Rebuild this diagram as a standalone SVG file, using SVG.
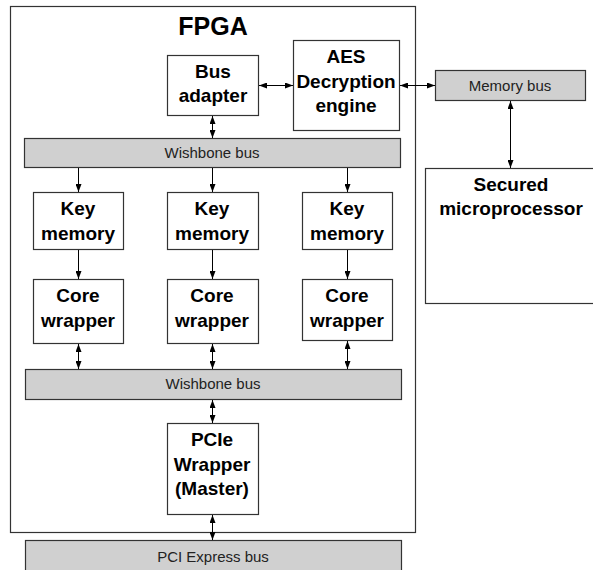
<svg xmlns="http://www.w3.org/2000/svg" width="593" height="570" viewBox="0 0 593 570">
<defs>
<marker id="ah" viewBox="0 0 8 6" refX="8" refY="3" markerWidth="8" markerHeight="6" markerUnits="userSpaceOnUse" orient="auto-start-reverse">
<path d="M0,0 L8,3 L0,6 Z" fill="#000"/>
</marker>
<style>
.box{fill:#fff;stroke:#333;stroke-width:1.2}
.bus{fill:#d0d0d0;stroke:#333;stroke-width:1.2}
.t{font-family:"Liberation Sans",Arial,sans-serif;font-weight:bold;font-size:19px;text-anchor:middle;fill:#000}
.bt{font-family:"Liberation Sans",Arial,sans-serif;font-size:15px;text-anchor:middle;fill:#222}
.c{stroke:#000;stroke-width:1;fill:none}
.one{marker-end:url(#ah)}
.two{marker-start:url(#ah);marker-end:url(#ah)}
</style>
</defs>
<rect width="593" height="570" fill="#fff"/>
<g id="fpga">
<rect x="10.5" y="6.5" width="405" height="526" fill="#fff" stroke="#333" stroke-width="1.2"/>
<text x="213" y="35" class="t" style="font-size:25px">FPGA</text>
</g>
<g id="bus-adapter">
<rect class="box" x="167.5" y="55.5" width="91" height="60"/>
<text class="t" x="213" y="78">Bus</text>
<text class="t" x="213" y="102">adapter</text>
</g>
<g id="aes">
<rect class="box" x="293.5" y="40.5" width="106" height="90"/>
<text class="t" x="346" y="63">AES</text>
<text class="t" x="346" y="88">Decryption</text>
<text class="t" x="346" y="112">engine</text>
</g>
<g id="memory-bus">
<rect class="bus" x="435.5" y="70.5" width="150" height="30"/>
<text class="bt" x="510" y="91">Memory bus</text>
</g>
<g id="secured-microprocessor">
<rect class="box" x="425.5" y="168.5" width="170" height="135"/>
<text class="t" x="511" y="191">Secured</text>
<text class="t" x="511" y="215">microprocessor</text>
</g>
<g id="wishbone-bus-1">
<rect class="bus" x="24.5" y="138.5" width="376" height="29"/>
<text class="bt" x="212" y="158">Wishbone bus</text>
</g>
<g id="key-memory-1">
<rect class="box" x="33.5" y="192.5" width="90" height="57"/>
<text class="t" x="78" y="215">Key</text>
<text class="t" x="78" y="240">memory</text>
</g>
<g id="key-memory-2">
<rect class="box" x="167.5" y="192.5" width="91" height="57"/>
<text class="t" x="212" y="215">Key</text>
<text class="t" x="212" y="240">memory</text>
</g>
<g id="key-memory-3">
<rect class="box" x="302.5" y="192.5" width="90" height="57"/>
<text class="t" x="347" y="215">Key</text>
<text class="t" x="347" y="240">memory</text>
</g>
<g id="core-wrapper-1">
<rect class="box" x="33.5" y="279.5" width="90" height="64"/>
<text class="t" x="78" y="302">Core</text>
<text class="t" x="78" y="327">wrapper</text>
</g>
<g id="core-wrapper-2">
<rect class="box" x="167.5" y="279.5" width="91" height="64"/>
<text class="t" x="212" y="302">Core</text>
<text class="t" x="212" y="327">wrapper</text>
</g>
<g id="core-wrapper-3">
<rect class="box" x="302.5" y="279.5" width="90" height="61"/>
<text class="t" x="347" y="302">Core</text>
<text class="t" x="347" y="327">wrapper</text>
</g>
<g id="wishbone-bus-2">
<rect class="bus" x="25.5" y="369.5" width="376" height="30"/>
<text class="bt" x="213" y="389">Wishbone bus</text>
</g>
<g id="pcie-wrapper">
<rect class="box" x="167.5" y="423.5" width="91" height="91"/>
<text class="t" x="212" y="446">PCIe</text>
<text class="t" x="212" y="471">Wrapper</text>
<text class="t" x="212" y="495">(Master)</text>
</g>
<g id="pci-express-bus">
<rect class="bus" x="25.5" y="540.5" width="376" height="36"/>
<text class="bt" x="213" y="562">PCI Express bus</text>
</g>
<g id="connectors">
<line class="c two" x1="259" y1="85.5" x2="293" y2="85.5"/>
<line class="c two" x1="400" y1="85.5" x2="435" y2="85.5"/>
<line class="c two" x1="510.5" y1="101" x2="510.5" y2="168"/>
<line class="c two" x1="212.5" y1="116" x2="212.5" y2="138"/>
<line class="c one" x1="78.5" y1="168" x2="78.5" y2="192"/>
<line class="c one" x1="212.5" y1="168" x2="212.5" y2="192"/>
<line class="c one" x1="347.5" y1="168" x2="347.5" y2="192"/>
<line class="c one" x1="78.5" y1="250" x2="78.5" y2="279"/>
<line class="c one" x1="212.5" y1="250" x2="212.5" y2="279"/>
<line class="c one" x1="347.5" y1="250" x2="347.5" y2="279"/>
<line class="c two" x1="78.5" y1="344" x2="78.5" y2="369"/>
<line class="c two" x1="212.5" y1="344" x2="212.5" y2="369"/>
<line class="c two" x1="347.5" y1="341" x2="347.5" y2="369"/>
<line class="c two" x1="212.5" y1="400" x2="212.5" y2="423"/>
<line class="c two" x1="212.5" y1="515" x2="212.5" y2="540"/>
</g>
</svg>
